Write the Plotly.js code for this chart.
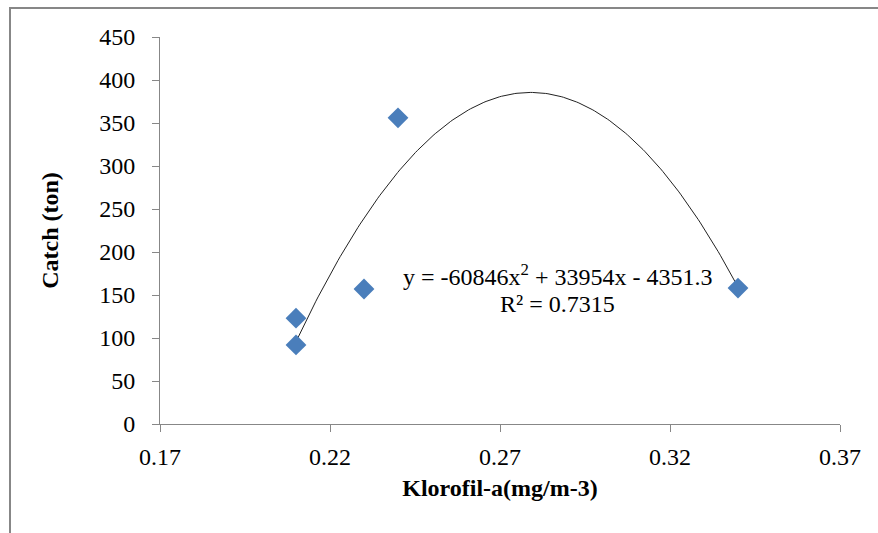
<!DOCTYPE html>
<html>
<head>
<meta charset="utf-8">
<script src="https://cdn.plot.ly/plotly-3.0.1.min.js"></script>
<style>
html,body{margin:0;padding:0;background:#fff;}
#wrap{position:relative;width:878px;height:533px;overflow:hidden;}
#frame{position:absolute;left:9px;top:7px;width:900px;height:600px;border-left:2px solid #878787;border-top:2px solid #878787;pointer-events:none;}
#chart{position:absolute;left:0;top:0;width:878px;height:533px;}
</style>
</head>
<body>
<div id="wrap"><div id="chart"></div><div id="frame"></div></div>
<script>
// Data
const klorofil = [0.21, 0.21, 0.23, 0.24, 0.34];
const catchTon = [92, 123, 157, 356, 158];
// Polynomial trendline coefficients shown in the chart: y = a x^2 + b x + c
const trendCoef = [-60846, 33954, -4351.3];
const xTicks = [0.17, 0.22, 0.27, 0.32, 0.37];
const xTickLabels = ['0.17', '0.22', '0.27', '0.32', '0.37'];
const yTicks = [0, 50, 100, 150, 200, 250, 300, 350, 400, 450];
const eqText = 'y = -60846x<sup>2</sup> + 33954x - 4351.3';
const r2Text = 'R² = 0.7315';

const xmin = Math.min(...klorofil), xmax = Math.max(...klorofil);
const tx = [], ty = [];
for (let i = 0; i <= 200; i++) {
  const x = xmin + (xmax - xmin) * i / 200;
  tx.push(x);
  ty.push(trendCoef[0]*x*x + trendCoef[1]*x + trendCoef[2]);
}

const font = 'Liberation Serif, Times New Roman, serif';
const traces = [
  {x: tx, y: ty, mode: 'lines', line: {color: '#222', width: 1}, hoverinfo: 'skip', showlegend: false},
  {x: klorofil, y: catchTon, mode: 'markers', type: 'scatter',
   marker: {symbol: 'diamond', size: 16, color: '#4a7ebb', line: {width: 0}}, showlegend: false}
];
const axisCommon = {
  showgrid: false, zeroline: false, showline: true, linecolor: '#878787', linewidth: 1,
  ticks: 'outside', ticklen: 7, tickcolor: '#878787', tickwidth: 1,
  tickfont: {family: font, size: 24, color: '#000'}
};
const layout = {
  width: 878, height: 533,
  margin: {l: 160, r: 38, t: 37, b: 109},
  paper_bgcolor: '#fff', plot_bgcolor: '#fff',
  font: {family: font, color: '#000'},
  xaxis: Object.assign({}, axisCommon, {
    range: [0.17, 0.37], tickmode: 'array', tickvals: xTicks, ticktext: xTickLabels,
    ticklabelstandoff: 4,
    title: {text: '<b>Klorofil-a(mg/m-3)</b>', font: {family: font, size: 24, color: '#000'}, standoff: 10}
  }),
  yaxis: Object.assign({}, axisCommon, {
    range: [0, 450], tickmode: 'array', tickvals: yTicks,
    ticklabelstandoff: 12,
    title: {text: '<b>Catch (ton)</b>', font: {family: font, size: 24, color: '#000'}, standoff: 33}
  }),
  annotations: [
    {x: 0.287, y: 173, xref: 'x', yref: 'y', text: eqText, showarrow: false,
     font: {family: font, size: 24, color: '#000'}},
    {x: 0.287, y: 140, xref: 'x', yref: 'y', text: r2Text, showarrow: false,
     font: {family: font, size: 24, color: '#000'}}
  ]
};
Plotly.newPlot('chart', traces, layout, {displayModeBar: false, staticPlot: true});
</script>
</body>
</html>
